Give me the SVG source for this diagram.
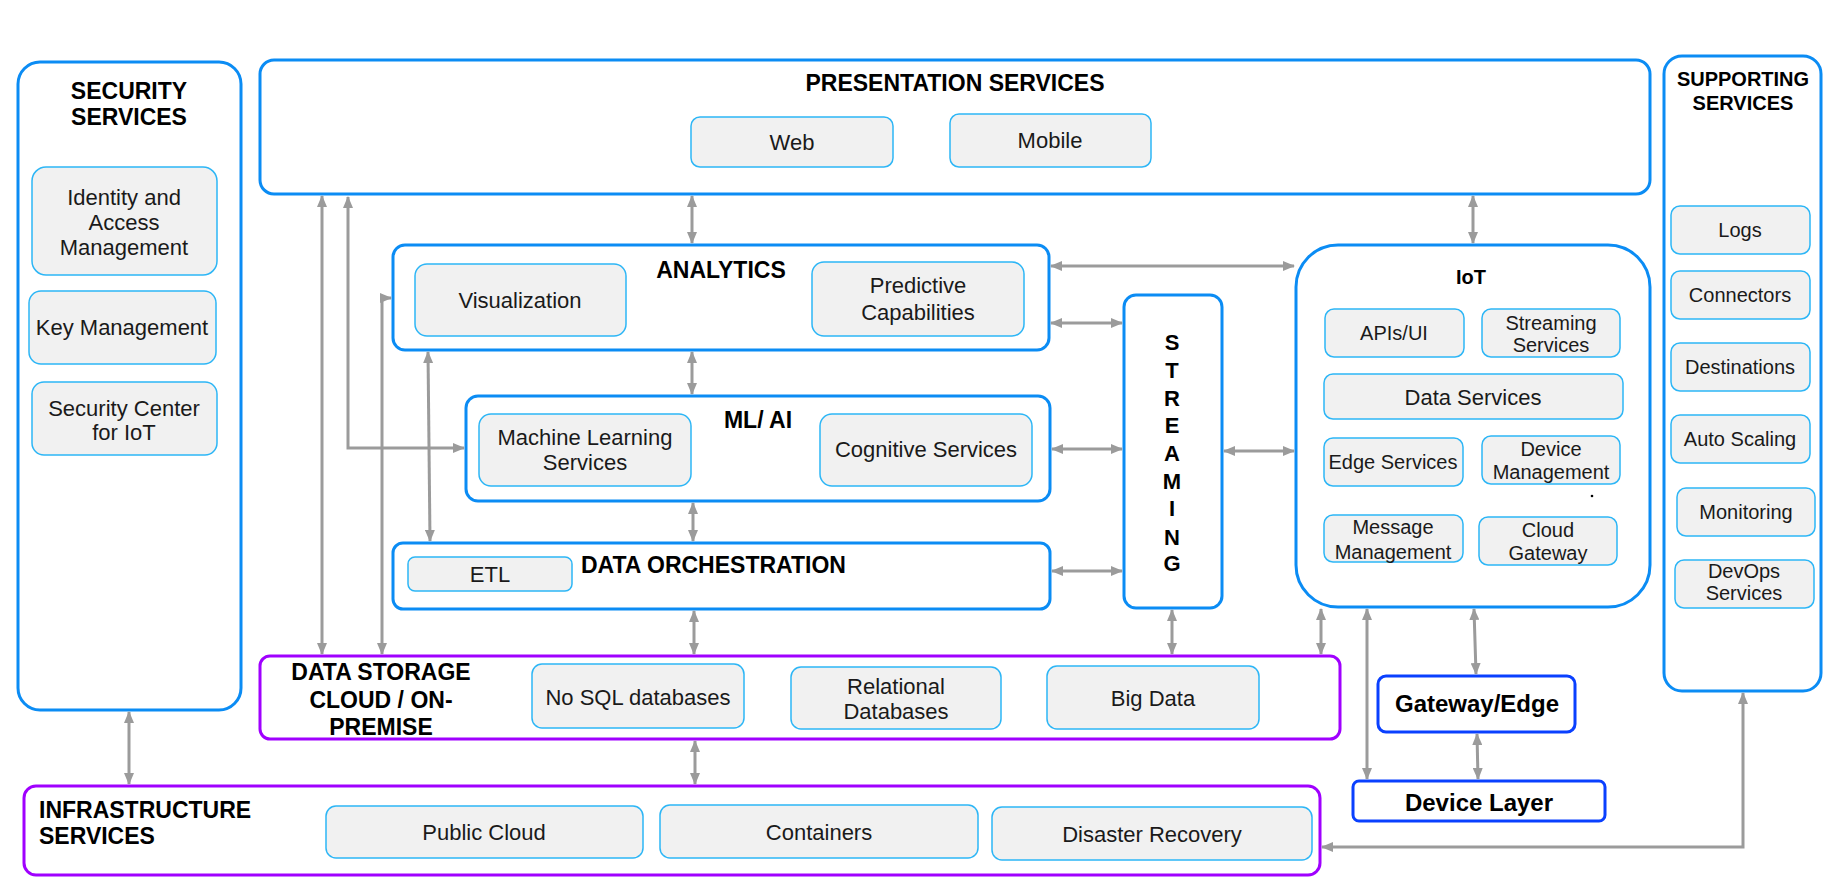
<svg xmlns="http://www.w3.org/2000/svg" width="1832" height="888" viewBox="0 0 1832 888">
<defs>
<style>
.outer{fill:#fff;stroke:#0b8cf4;stroke-width:3}
.purple{fill:#fff;stroke:#a000ff;stroke-width:3}
.dark{fill:#fff;stroke:#0a40ff;stroke-width:3}
.inner{fill:#f1f1f1;stroke:#2db6f6;stroke-width:1.5}
.conn{fill:none;stroke:#9b9b9b;stroke-width:3;marker-start:url(#ah);marker-end:url(#ah)}
text{font-family:"Liberation Sans",Arial,sans-serif}
.t{font-size:22px;fill:#1a1a1a;text-anchor:middle}
.s{font-size:20px;fill:#1a1a1a;text-anchor:middle}
.h{font-size:23px;font-weight:bold;fill:#000;text-anchor:middle}
.hs{font-size:20px;font-weight:bold;fill:#000;text-anchor:middle}
.st{font-size:22px;font-weight:bold;fill:#000;text-anchor:middle}
</style>
<marker id="ah" viewBox="0 0 12 10" refX="11" refY="5" markerWidth="12" markerHeight="10" markerUnits="userSpaceOnUse" orient="auto-start-reverse">
<path d="M0,0 L12,5 L0,10 z" fill="#9b9b9b"/>
</marker>
</defs>
<rect width="1832" height="888" fill="#fff"/>

<g id="security">
<rect class="outer" x="18" y="62" width="223" height="648" rx="22"/>
<text class="h" x="129" y="99">SECURITY</text>
<text class="h" x="129" y="125">SERVICES</text>
<rect class="inner" x="32" y="167" width="185" height="108" rx="14"/>
<text class="t" x="124" y="205">Identity and</text>
<text class="t" x="124" y="230">Access</text>
<text class="t" x="124" y="255">Management</text>
<rect class="inner" x="29" y="291" width="187" height="73" rx="12"/>
<text class="t" x="122" y="335">Key Management</text>
<rect class="inner" x="32" y="382" width="185" height="73" rx="12"/>
<text class="t" x="124" y="416">Security Center</text>
<text class="t" x="124" y="440">for IoT</text>
</g>

<g id="presentation">
<rect class="outer" x="260" y="60" width="1390" height="134" rx="14"/>
<text class="h" x="955" y="91">PRESENTATION SERVICES</text>
<rect class="inner" x="691" y="117" width="202" height="50" rx="9"/>
<text class="t" x="792" y="150">Web</text>
<rect class="inner" x="950" y="114" width="201" height="53" rx="9"/>
<text class="t" x="1050" y="148">Mobile</text>
</g>

<g id="supporting">
<rect class="outer" x="1664" y="56" width="157" height="635" rx="18"/>
<text class="hs" x="1743" y="86">SUPPORTING</text>
<text class="hs" x="1743" y="110">SERVICES</text>
<rect class="inner" x="1671" y="206" width="139" height="48" rx="9"/>
<text class="s" x="1740" y="237">Logs</text>
<rect class="inner" x="1671" y="271" width="139" height="48" rx="9"/>
<text class="s" x="1740" y="302">Connectors</text>
<rect class="inner" x="1671" y="343" width="139" height="48" rx="9"/>
<text class="s" x="1740" y="374">Destinations</text>
<rect class="inner" x="1671" y="415" width="139" height="48" rx="9"/>
<text class="s" x="1740" y="446">Auto Scaling</text>
<rect class="inner" x="1677" y="488" width="138" height="48" rx="9"/>
<text class="s" x="1746" y="519">Monitoring</text>
<rect class="inner" x="1675" y="560" width="139" height="48" rx="9"/>
<text class="s" x="1744" y="578">DevOps</text>
<text class="s" x="1744" y="600">Services</text>
</g>

<g id="analytics">
<rect class="outer" x="393" y="245" width="656" height="105" rx="12"/>
<text class="h" x="721" y="278">ANALYTICS</text>
<rect class="inner" x="415" y="264" width="211" height="72" rx="12"/>
<text class="t" x="520" y="308">Visualization</text>
<rect class="inner" x="812" y="262" width="212" height="74" rx="12"/>
<text class="t" x="918" y="293">Predictive</text>
<text class="t" x="918" y="320">Capabilities</text>
</g>

<g id="mlai">
<rect class="outer" x="466" y="396" width="584" height="105" rx="12"/>
<text class="h" x="758" y="428">ML/ AI</text>
<rect class="inner" x="479" y="414" width="212" height="72" rx="12"/>
<text class="t" x="585" y="445">Machine Learning</text>
<text class="t" x="585" y="470">Services</text>
<rect class="inner" x="820" y="414" width="212" height="72" rx="12"/>
<text class="t" x="926" y="457">Cognitive Services</text>
</g>

<g id="orchestration">
<rect class="outer" x="393" y="543" width="657" height="66" rx="10"/>
<text class="h" x="581" y="573" style="text-anchor:start">DATA ORCHESTRATION</text>
<rect class="inner" x="408" y="557" width="164" height="34" rx="7"/>
<text class="t" x="490" y="582">ETL</text>
</g>

<g id="streaming">
<rect class="outer" x="1124" y="295" width="98" height="313" rx="12"/>
<text class="st" x="1172" y="350">S</text>
<text class="st" x="1172" y="378">T</text>
<text class="st" x="1172" y="406">R</text>
<text class="st" x="1172" y="433">E</text>
<text class="st" x="1172" y="461">A</text>
<text class="st" x="1172" y="489">M</text>
<text class="st" x="1172" y="516">I</text>
<text class="st" x="1172" y="545">N</text>
<text class="st" x="1172" y="571">G</text>
</g>

<g id="iot">
<rect class="outer" x="1296" y="245" width="354" height="362" rx="42"/>
<text class="hs" x="1471" y="284">IoT</text>
<rect class="inner" x="1325" y="309" width="139" height="48" rx="9"/>
<text class="s" x="1394" y="340">APIs/UI</text>
<rect class="inner" x="1482" y="309" width="138" height="48" rx="9"/>
<text class="s" x="1551" y="330">Streaming</text>
<text class="s" x="1551" y="352">Services</text>
<rect class="inner" x="1324" y="374" width="299" height="45" rx="9"/>
<text class="t" x="1473" y="405">Data Services</text>
<rect class="inner" x="1324" y="438" width="139" height="48" rx="9"/>
<text class="s" x="1393" y="469">Edge Services</text>
<rect class="inner" x="1482" y="436" width="138" height="48" rx="9"/>
<text class="s" x="1551" y="456">Device</text>
<text class="s" x="1551" y="479">Management</text>
<circle cx="1592" cy="496" r="1.3" fill="#000"/>
<rect class="inner" x="1324" y="515" width="139" height="47" rx="9"/>
<text class="s" x="1393" y="534">Message</text>
<text class="s" x="1393" y="559">Management</text>
<rect class="inner" x="1479" y="517" width="138" height="48" rx="9"/>
<text class="s" x="1548" y="537">Cloud</text>
<text class="s" x="1548" y="560">Gateway</text>
</g>

<g id="storage">
<rect class="purple" x="260" y="656" width="1080" height="83" rx="10"/>
<text class="h" x="381" y="680">DATA STORAGE</text>
<text class="h" x="381" y="708">CLOUD / ON-</text>
<text class="h" x="381" y="735">PREMISE</text>
<rect class="inner" x="532" y="664" width="212" height="64" rx="10"/>
<text class="t" x="638" y="705">No SQL databases</text>
<rect class="inner" x="791" y="667" width="210" height="62" rx="10"/>
<text class="t" x="896" y="694">Relational</text>
<text class="t" x="896" y="719">Databases</text>
<rect class="inner" x="1047" y="666" width="212" height="63" rx="10"/>
<text class="t" x="1153" y="706">Big Data</text>
</g>

<g id="infrastructure">
<rect class="purple" x="24" y="786" width="1296" height="89" rx="12"/>
<text class="h" x="39" y="818" style="text-anchor:start">INFRASTRUCTURE</text>
<text class="h" x="39" y="844" style="text-anchor:start">SERVICES</text>
<rect class="inner" x="326" y="806" width="317" height="52" rx="10"/>
<text class="t" x="484" y="840">Public Cloud</text>
<rect class="inner" x="660" y="805" width="318" height="53" rx="10"/>
<text class="t" x="819" y="840">Containers</text>
<rect class="inner" x="992" y="807" width="320" height="53" rx="10"/>
<text class="t" x="1152" y="842">Disaster Recovery</text>
</g>

<g id="gateway">
<rect class="dark" x="1378" y="676" width="197" height="56" rx="8"/>
<text class="h" x="1477" y="712" style="font-size:24px">Gateway/Edge</text>
</g>

<g id="device">
<rect class="dark" x="1353" y="781" width="252" height="40" rx="6"/>
<text class="h" x="1479" y="811" style="font-size:24px">Device Layer</text>
</g>

<g id="connectors">
<path class="conn" d="M692 196 L692 243"/>
<path class="conn" d="M1473 196 L1473 243"/>
<path class="conn" d="M322 196 L322 654"/>
<path class="conn" d="M348 197 L348 448 L464 448"/>
<path class="conn" d="M382 654 L382 298 L391 298"/>
<path class="conn" d="M428 352 L430 541"/>
<path class="conn" d="M692 352 L692 394"/>
<path class="conn" d="M693 503 L693 541"/>
<path class="conn" d="M694 611 L694 654"/>
<path class="conn" d="M695 741 L695 784"/>
<path class="conn" d="M129 712 L129 784"/>
<path class="conn" d="M1051 266 L1294 266"/>
<path class="conn" d="M1051 323 L1122 323"/>
<path class="conn" d="M1052 449 L1122 449"/>
<path class="conn" d="M1052 571 L1122 571"/>
<path class="conn" d="M1224 451 L1294 451"/>
<path class="conn" d="M1172 610 L1172 654"/>
<path class="conn" d="M1321 609 L1321 654"/>
<path class="conn" d="M1367 609 L1367 779"/>
<path class="conn" d="M1474 609 L1476 674"/>
<path class="conn" d="M1477 734 L1478 779"/>
<path class="conn" d="M1743 693 L1743 847 L1322 847"/>
</g>
</svg>
